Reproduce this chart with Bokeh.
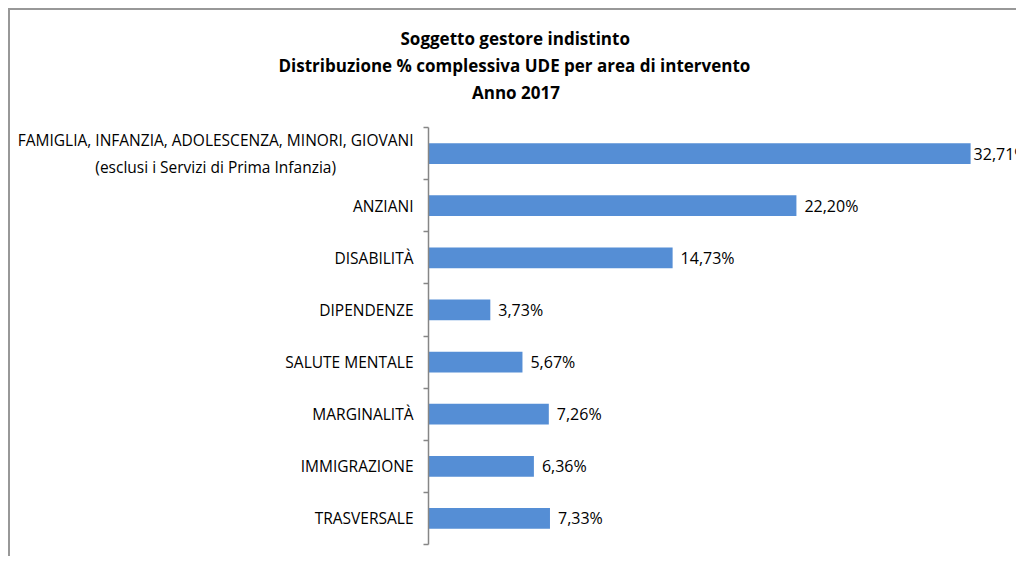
from bokeh.plotting import figure
from bokeh.models import (Range1d, LinearAxis, FixedTicker, ColumnDataSource, Title)
from bokeh.core.properties import value
from bokeh.embed import file_html
from bokeh.resources import INLINE

categories = [
    "FAMIGLIA, INFANZIA, ADOLESCENZA, MINORI, GIOVANI\n(esclusi i Servizi di Prima Infanzia)" + "\u2002" * 10,
    "ANZIANI",
    "DISABILITÀ",
    "DIPENDENZE",
    "SALUTE MENTALE",
    "MARGINALITÀ",
    "IMMIGRAZIONE",
    "TRASVERSALE",
]
values = [32.71, 22.20, 14.73, 3.73, 5.67, 7.26, 6.36, 7.33]
title_lines = [
    "Soggetto gestore indistinto",
    "Distribuzione % complessiva UDE per area di intervento",
    "Anno 2017",
]

n = len(categories)
ypos = [n - i - 0.5 for i in range(n)]          # category centres, first on top
labels = [f"{v:.2f}".replace(".", ",") + "%" for v in values]
offsets = [3 if v == max(values) else 8 for v in values]

FONT = "Open Sans"
BAR = "#558ed5"
W, H = 1008, 548
FRAME_LEFT = 418

src = ColumnDataSource(dict(y=ypos, val=values, lab=labels, off=offsets))

p = figure(width=W, height=H, output_backend="svg", toolbar_location=None,
           y_range=Range1d(0, n), x_range=Range1d(0, 35.6),
           x_axis_location=None, y_axis_location=None,
           min_border_left=FRAME_LEFT, min_border_right=0, min_border_top=117,
           min_border_bottom=14)
p.styles = {"margin-left": "8px", "margin-top": "8px",
            "border-left": "2px solid #989898", "border-top": "2px solid #989898"}
p.outline_line_color = None
p.xgrid.visible = False
p.ygrid.visible = False
p.background_fill_color = "white"
p.border_fill_color = "white"

p.hbar(y="y", right="val", left=0, height=0.4, source=src,
       fill_color=BAR, line_color=None)
p.text(x="val", y="y", text="lab", x_offset="off", source=src,
       text_baseline="middle", text_align="left", text_font=value(FONT),
       text_font_size="16px", text_color="#000000")

tick_axis = LinearAxis(ticker=FixedTicker(ticks=list(range(n + 1))),
                       axis_line_color="#868686", axis_line_width=1.5,
                       major_tick_line_color="#868686", major_tick_line_width=1.5,
                       major_tick_out=5, major_tick_in=0,
                       minor_tick_line_color=None,
                       major_label_text_font_size="0px", major_label_standoff=0)
p.add_layout(tick_axis, "left")

cat_axis = LinearAxis(ticker=FixedTicker(ticks=ypos),
                      major_label_overrides={y: c for y, c in zip(ypos, categories)},
                      axis_line_color=None, major_tick_line_color=None,
                      minor_tick_line_color=None,
                      major_label_standoff=4,
                      major_label_text_font=FONT,
                      major_label_text_font_size="15.5px",
                      major_label_text_color="#000000")
p.add_layout(cat_axis, "left")

# gap between the title block and the plot area
p.add_layout(Title(text=" ", text_font_size="1px", standoff=21), "above")

# title lines centred on the whole chart (canvas centre ~505 px)
title_widths = [230, 474, 87]
title_standoffs = [0, 4, 0]
for t, w, s in reversed(list(zip(title_lines, title_widths, title_standoffs))):
    p.add_layout(Title(text=t, align="left", offset=505 - w / 2 - FRAME_LEFT,
                       text_font=FONT, text_font_style="bold",
                       text_font_size="17px", text_color="#000000",
                       standoff=s), "above")

open("out.html", "w").write(file_html(p, INLINE))
